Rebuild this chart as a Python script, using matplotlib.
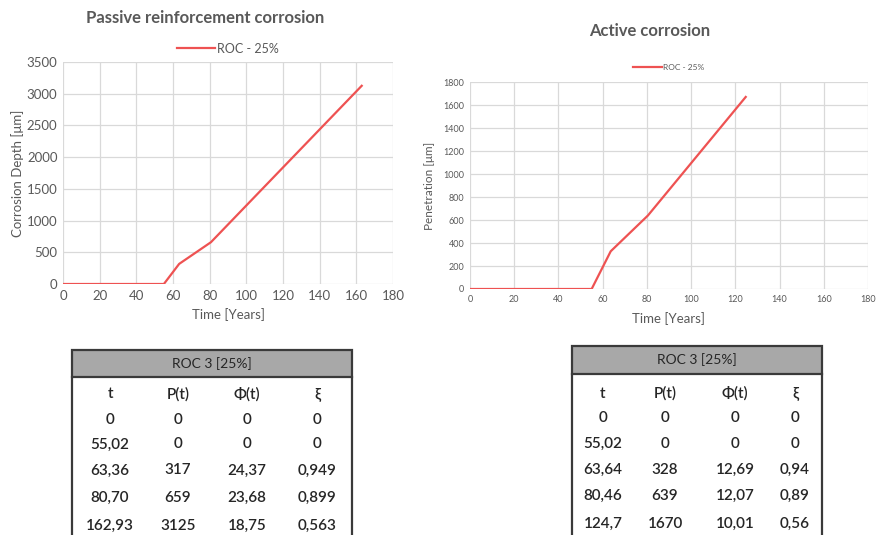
import matplotlib.pyplot as plt
from matplotlib.patches import Rectangle

plt.rcParams['font.family'] = ['Lato', 'DejaVu Sans']

## Data
# passive reinforcement corrosion (ROC 3, 25%)
passive_t = [0, 55.02, 63.36, 80.70, 162.93]
passive_p = [0, 0, 317, 659, 3125]
passive_phi = ["0", "0", "24,37", "23,68", "18,75"]
passive_xi = ["0", "0", "0,949", "0,899", "0,563"]
passive_t_lbl = ["0", "55,02", "63,36", "80,70", "162,93"]

# active corrosion (ROC 3, 25%)
active_t = [0, 55.02, 63.64, 80.46, 124.7]
active_p = [0, 0, 328, 639, 1670]
active_phi = ["0", "0", "12,69", "12,07", "10,01"]
active_xi = ["0", "0", "0,94", "0,89", "0,56"]
active_t_lbl = ["0", "55,02", "63,64", "80,46", "124,7"]

table_cols = ["t", "P(t)", "Φ(t)", "ξ"]
table_title = "ROC 3 [25%]"
series_name = "ROC - 25%"

W, H = 877, 535
fig = plt.figure(figsize=(W / 100, H / 100), dpi=100)

red = '#ee5252'
grey_txt = '#595959'
grid_c = '#d9d9d9'


def px_axes(x0, y0, x1, y1):
    return fig.add_axes([x0 / W, 1 - y1 / H, (x1 - x0) / W, (y1 - y0) / H])


def style(ax, fs):
    for s in ax.spines.values():
        s.set_visible(False)
    ax.grid(True, color=grid_c, lw=0.9)
    ax.set_axisbelow(True)
    ax.tick_params(length=0, labelsize=fs, colors=grey_txt, pad=4)


## Passive chart
ax1 = px_axes(63, 62, 393, 284)
ax1.plot(passive_t, passive_p, color=red, lw=1.6, label=series_name)
ax1.set_xlim(0, 180)
ax1.set_ylim(0, 3500)
ax1.set_xticks(range(0, 181, 20))
ax1.set_yticks(range(0, 3501, 500))
style(ax1, 9.5)
ax1.set_xlabel('Time [Years]', fontsize=9.5, color=grey_txt, labelpad=5)
ax1.set_ylabel('Corrosion Depth [μm]', fontsize=9.5, color=grey_txt, labelpad=2)
fig.text(205 / W, 1 - 18 / H, 'Passive reinforcement corrosion', ha='center', va='center',
         fontsize=12, fontweight='bold', color=grey_txt)
ax1.legend(loc='lower center', bbox_to_anchor=(0.5, 1.0), frameon=False, fontsize=9,
           handlelength=3.0, handletextpad=0.15, labelcolor=grey_txt, borderaxespad=0.2)

## Active chart
ax2 = px_axes(470, 82, 868, 289)
ax2.plot(active_t, active_p, color=red, lw=1.6, label=series_name)
ax2.set_xlim(0, 180)
ax2.set_ylim(0, 1800)
ax2.set_xticks(range(0, 181, 20))
ax2.set_yticks(range(0, 1801, 200))
style(ax2, 6.5)
ax2.set_xlabel('Time [Years]', fontsize=9.5, color=grey_txt, labelpad=6)
ax2.set_ylabel('Penetration [μm]', fontsize=8.5, color=grey_txt, labelpad=6)
fig.text(650 / W, 1 - 31 / H, 'Active corrosion', ha='center', va='center',
         fontsize=12, fontweight='bold', color=grey_txt)
ax2.legend(loc='lower center', bbox_to_anchor=(0.5, 1.0), frameon=False, fontsize=6,
           handlelength=3.4, handletextpad=0.2, labelcolor=grey_txt, borderaxespad=0.9)


## Tables
def draw_table(x0, x1, top, head_h, row_y, col_x, rows):
    fx = lambda v: v / W
    fy = lambda v: 1 - v / H
    fig.patches.append(Rectangle((fx(x0), fy(top + head_h)), fx(x1) - fx(x0), head_h / H,
                                 transform=fig.transFigure, facecolor='#a8a8a8',
                                 edgecolor='#3a3a3a', lw=1.6))
    fig.text(fx((x0 + x1) / 2), fy(top + head_h / 2), table_title, ha='center', va='center',
             fontsize=10, color='#262626')
    for side in (x0, x1):
        fig.add_artist(plt.Line2D([fx(side), fx(side)], [fy(top + head_h), 0],
                                  transform=fig.transFigure, color='#3a3a3a', lw=1.6))
    for y, row in zip(row_y, [table_cols] + rows):
        for x, val in zip(col_x, row):
            fig.text(fx(x), fy(y), val, ha='center', va='center_baseline', fontsize=11,
                     fontweight='semibold', color='#262626')


draw_table(72, 352, 350, 27, [393, 418, 443, 469, 496, 524], [110, 178, 247, 317],
           [list(r) for r in zip(passive_t_lbl, [str(p) for p in passive_p], passive_phi, passive_xi)])
draw_table(572, 822, 346, 28, [392, 416, 442, 468, 494, 522], [603, 665, 735, 795],
           [list(r) for r in zip(active_t_lbl, [str(p) for p in active_p], active_phi, active_xi)])

fig.savefig('out.png', dpi=100)
